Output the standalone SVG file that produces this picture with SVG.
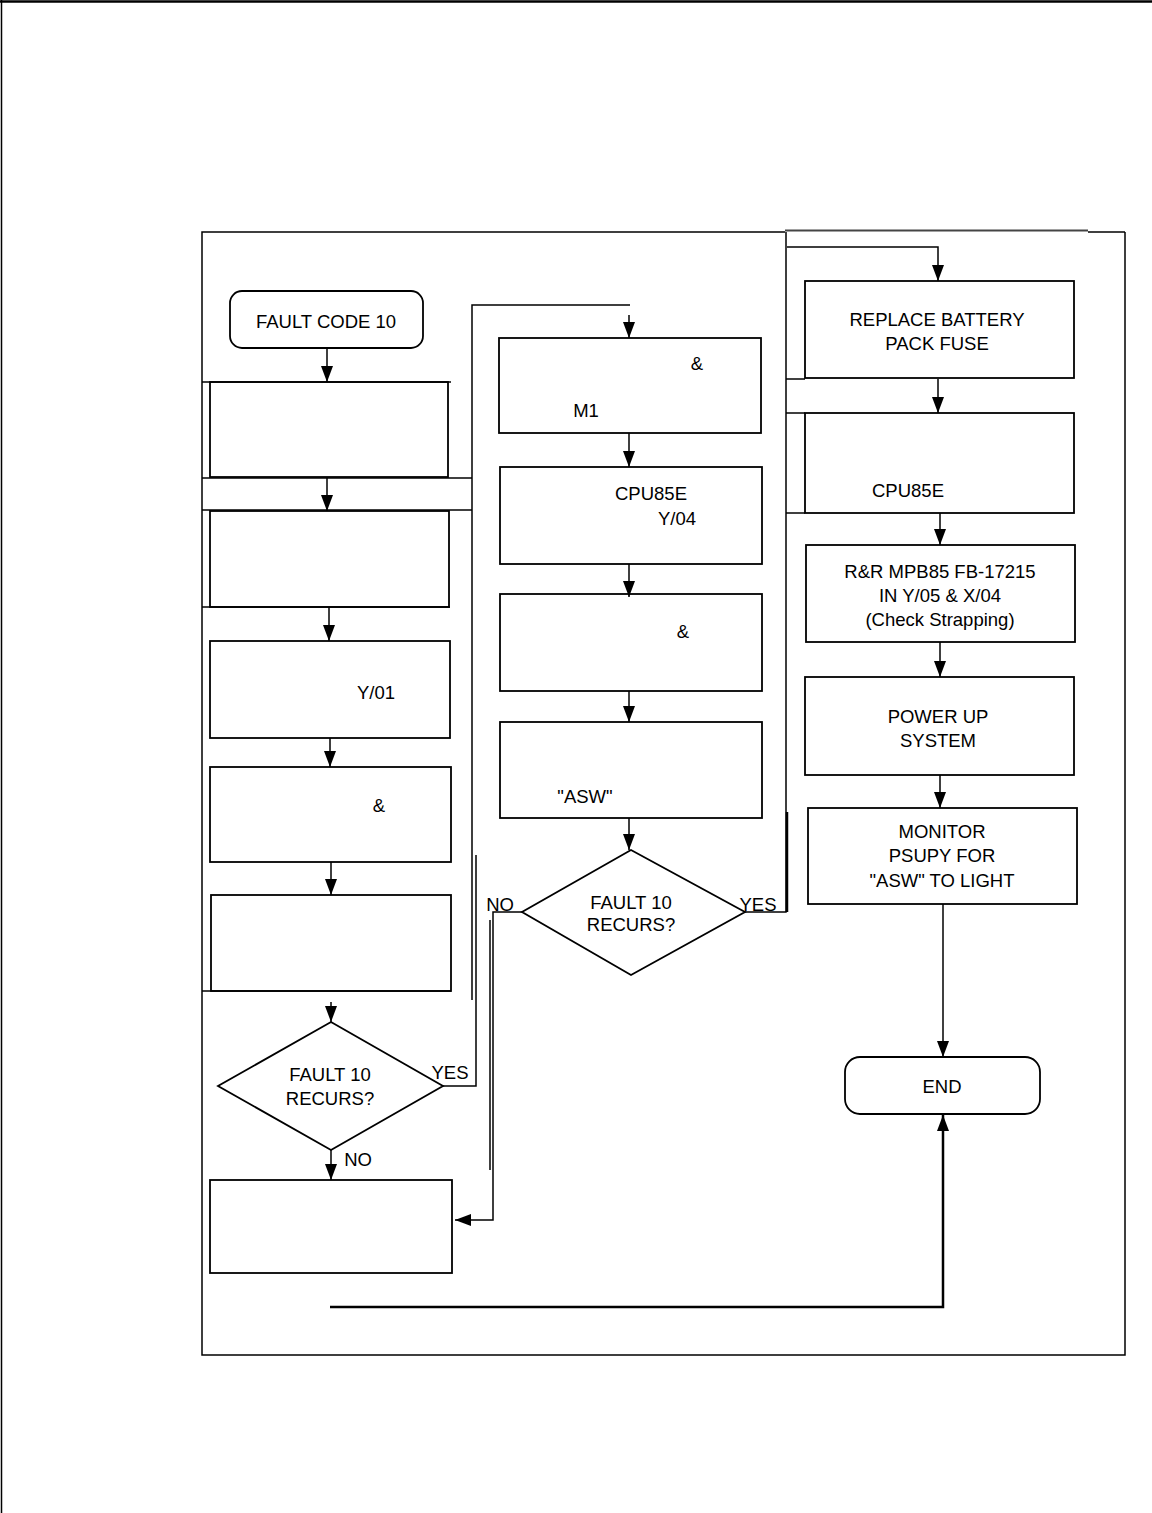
<svg xmlns="http://www.w3.org/2000/svg" width="1152" height="1513" viewBox="0 0 1152 1513">
<style>
.bx{fill:none;stroke:#000;stroke-width:1.8}
.ln{fill:none;stroke:#000;stroke-width:1.5}
.th{fill:none;stroke:#000;stroke-width:2.5}
.t{font-family:"Liberation Sans",Arial,sans-serif;font-size:18.5px;fill:#000;text-anchor:middle}
</style>
<defs>
<marker id="ah" viewBox="0 0 16 12" markerWidth="16" markerHeight="12" refX="16" refY="6" orient="auto" markerUnits="userSpaceOnUse">
<path d="M0,0 L16,6 L0,12 z" fill="#000"/>
</marker>
</defs>
<rect width="1152" height="1513" fill="#fff"/>
<g id="page">
<line x1="0" y1="1.5" x2="1152" y2="1.5" class="th"/>
<line x1="1.5" y1="0" x2="1.5" y2="1513" class="ln"/>
<polyline points="785,232 202,232 202,1355 1125,1355 1125,232" class="ln"/>
<line x1="785" y1="230.5" x2="1088" y2="230.5" stroke="#444" stroke-width="2"/>
<line x1="1088" y1="232" x2="1125" y2="232" class="ln"/>
<line x1="202" y1="382" x2="451" y2="382" class="ln"/>
<line x1="202" y1="478" x2="472" y2="478" class="ln"/>
<line x1="202" y1="510" x2="472" y2="510" class="ln"/>
<line x1="202" y1="607" x2="450" y2="607" class="ln"/>
<line x1="202" y1="991" x2="451" y2="991" class="ln"/>
<line x1="786" y1="379" x2="805" y2="379" class="ln"/>
<line x1="786" y1="413" x2="805" y2="413" class="ln"/>
<line x1="786" y1="513" x2="805" y2="513" class="ln"/>
</g>
<g id="n_start"><rect x="230" y="291" width="193" height="57" rx="12" class="bx"/><text x="326" y="328" class="t">FAULT CODE 10</text></g>
<g id="n_l1"><rect x="210" y="382" width="238" height="95" class="bx"/></g>
<g id="n_l2"><rect x="210" y="511" width="239" height="96" class="bx"/></g>
<g id="n_l3"><rect x="210" y="641" width="240" height="97" class="bx"/><text x="376" y="699" class="t">Y/01</text></g>
<g id="n_l4"><rect x="210" y="767" width="241" height="95" class="bx"/><text x="379" y="812" class="t">&amp;</text></g>
<g id="n_l5"><rect x="211" y="895" width="240" height="96" class="bx"/></g>
<g id="n_d1"><polygon points="331,1022 443,1086 331,1150 218,1086" class="bx"/><text x="330" y="1081" class="t" font-size="17.5">FAULT 10</text><text x="330" y="1105" class="t" font-size="17.5">RECURS?</text></g>
<g id="n_l6"><rect x="210" y="1180" width="242" height="93" class="bx"/></g>
<g id="n_m1"><rect x="499" y="338" width="262" height="95" class="bx"/><text x="697" y="370" class="t">&amp;</text><text x="586" y="417" class="t">M1</text></g>
<g id="n_m2"><rect x="500" y="467" width="262" height="97" class="bx"/><text x="651" y="500" class="t">CPU85E</text><text x="677" y="525" class="t">Y/04</text></g>
<g id="n_m3"><rect x="500" y="594" width="262" height="97" class="bx"/><text x="683" y="638" class="t">&amp;</text></g>
<g id="n_m4"><rect x="500" y="722" width="262" height="96" class="bx"/><text x="585" y="803" class="t">"ASW"</text></g>
<g id="n_d2"><polygon points="631,850 745,912 631,975 522,912" class="bx"/><text x="631" y="909" class="t">FAULT 10</text><text x="631" y="931" class="t">RECURS?</text></g>
<g id="n_r1"><rect x="805" y="281" width="269" height="97" class="bx"/><text x="937" y="326" class="t">REPLACE BATTERY</text><text x="937" y="350" class="t">PACK FUSE</text></g>
<g id="n_r2"><rect x="805" y="413" width="269" height="100" class="bx"/><text x="908" y="497" class="t" font-size="19" textLength="72" lengthAdjust="spacingAndGlyphs">CPU85E</text></g>
<g id="n_r3"><rect x="806" y="545" width="269" height="97" class="bx"/><text x="940" y="578" class="t">R&amp;R MPB85 FB-17215</text><text x="940" y="602" class="t">IN Y/05 &amp; X/04</text><text x="940" y="626" class="t">(Check Strapping)</text></g>
<g id="n_r4"><rect x="805" y="677" width="269" height="98" class="bx"/><text x="938" y="723" class="t">POWER UP</text><text x="938" y="747" class="t">SYSTEM</text></g>
<g id="n_r5"><rect x="808" y="808" width="269" height="96" class="bx"/><text x="942" y="838" class="t">MONITOR</text><text x="942" y="862" class="t">PSUPY FOR</text><text x="942" y="887" class="t">"ASW" TO LIGHT</text></g>
<g id="n_end"><rect x="845" y="1057" width="195" height="57" rx="15" class="bx"/><text x="942" y="1093" class="t">END</text></g>
<g id="connectors">
<line x1="327" y1="348" x2="327" y2="382" class="ln" marker-end="url(#ah)"/>
<line x1="327" y1="478" x2="327" y2="511" class="ln" marker-end="url(#ah)"/>
<line x1="329" y1="607" x2="329" y2="641" class="ln" marker-end="url(#ah)"/>
<line x1="330" y1="738" x2="330" y2="767" class="ln" marker-end="url(#ah)"/>
<line x1="331" y1="862" x2="331" y2="895" class="ln" marker-end="url(#ah)"/>
<line x1="331" y1="1002" x2="331" y2="1022" class="ln" marker-end="url(#ah)"/>
<line x1="331" y1="1150" x2="331" y2="1180" class="ln" marker-end="url(#ah)"/>
<polyline points="443,1086 476,1086 476,855" class="ln"/>
<polyline points="472,1000 472,305 630,305" class="ln"/>
<line x1="629" y1="315" x2="629" y2="338" class="ln" marker-end="url(#ah)"/>
<line x1="629" y1="433" x2="629" y2="467" class="ln" marker-end="url(#ah)"/>
<line x1="629" y1="564" x2="629" y2="597" class="ln" marker-end="url(#ah)"/>
<line x1="629" y1="691" x2="629" y2="722" class="ln" marker-end="url(#ah)"/>
<line x1="629" y1="818" x2="629" y2="850" class="ln" marker-end="url(#ah)"/>
<polyline points="522,912 493,912 493,1220 455,1220" class="ln" marker-end="url(#ah)"/>
<line x1="490" y1="920" x2="490" y2="1170" class="ln"/>
<polyline points="745,912 786,912 786,232" class="ln"/>
<line x1="787" y1="812" x2="787" y2="912" class="th"/>
<polyline points="787,247 938,247 938,281" class="ln" marker-end="url(#ah)"/>
<line x1="938" y1="379" x2="938" y2="413" class="ln" marker-end="url(#ah)"/>
<line x1="940" y1="513" x2="940" y2="545" class="ln" marker-end="url(#ah)"/>
<line x1="940" y1="642" x2="940" y2="677" class="ln" marker-end="url(#ah)"/>
<line x1="940" y1="775" x2="940" y2="808" class="ln" marker-end="url(#ah)"/>
<line x1="943" y1="904" x2="943" y2="1057" class="ln" marker-end="url(#ah)"/>
<polyline points="330,1307 943,1307 943,1115" class="th" marker-end="url(#ah)"/>
</g>
<g id="labels">
<text x="450" y="1079" class="t" font-size="17">YES</text>
<text x="358" y="1166" class="t" font-size="17">NO</text>
<text x="500" y="911" class="t">NO</text>
<text x="758" y="911" class="t">YES</text>
</g>
</svg>
